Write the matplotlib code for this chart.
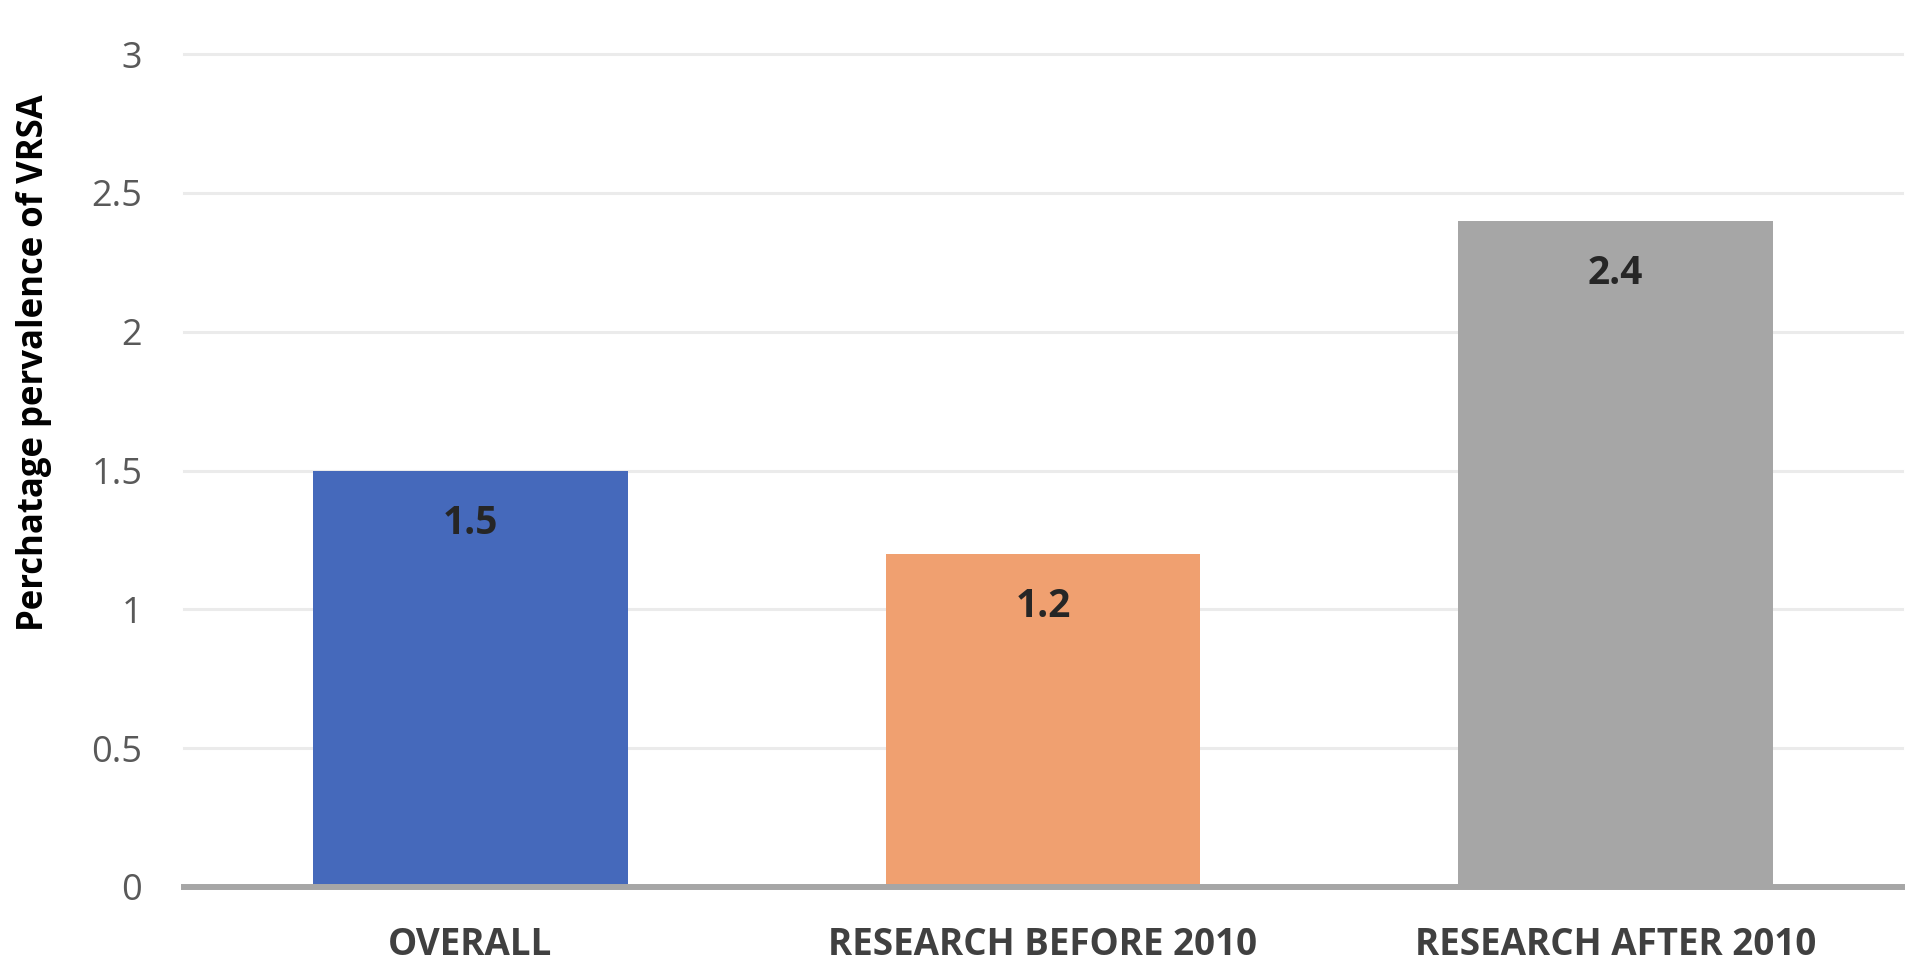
import matplotlib
matplotlib.use("Agg")
import matplotlib.pyplot as plt

categories = ["OVERALL", "RESEARCH BEFORE 2010", "RESEARCH AFTER 2010"]
values = [1.5, 1.2, 2.4]
value_labels = ["1.5", "1.2", "2.4"]
yticks = [0, 0.5, 1, 1.5, 2, 2.5, 3]
ytick_labels = ["0", "0.5", "1", "1.5", "2", "2.5", "3"]
colors = ["#4569BB", "#F0A070", "#A6A6A6"]
ylabel = "Perchatage pervalence of VRSA"

plt.rcParams['font.family'] = ['Open Sans', 'DejaVu Sans']

fig = plt.figure(figsize=(19.2, 9.68), dpi=100)
ax = fig.add_axes([184/1920, (968-887)/968, (1902-184)/1920, (887-54)/968])

x = list(range(len(categories)))
ax.bar(x, values, width=0.55, color=colors, zorder=2)
ax.set_xlim(-0.5, 2.5)
ax.set_ylim(0, 3)

for xi, v, lab in zip(x, values, value_labels):
    ax.annotate(lab, (xi, v), xytext=(0, -53), textcoords="offset pixels",
                ha="center", va="center", fontsize=28, fontweight="bold",
                color="#262626", zorder=3)

ax.set_yticks(yticks)
ax.set_yticklabels(ytick_labels, fontsize=26, color="#595959")
ax.set_xticks(x)
ax.set_xticklabels(categories, fontsize=26.5, fontweight="bold", color="#404040")
ax.tick_params(axis="both", length=0)
ax.tick_params(axis="y", pad=30)
ax.tick_params(axis="x", pad=28)

for y in yticks[1:]:
    ax.axhline(y, color="#EBEBEB", linewidth=2.2, zorder=1, clip_on=False)

for s in ["top", "right", "left"]:
    ax.spines[s].set_visible(False)
ax.spines["bottom"].set_color("#A6A6A6")
ax.spines["bottom"].set_linewidth(4.3)
ax.spines["bottom"].set_zorder(3)

ax.set_ylabel(ylabel, fontsize=25, fontweight="bold", color="black")
ax.yaxis.set_label_coords(-(184-52)/1718, (887-363)/833)

fig.savefig("out.png", dpi=100, facecolor="white")
